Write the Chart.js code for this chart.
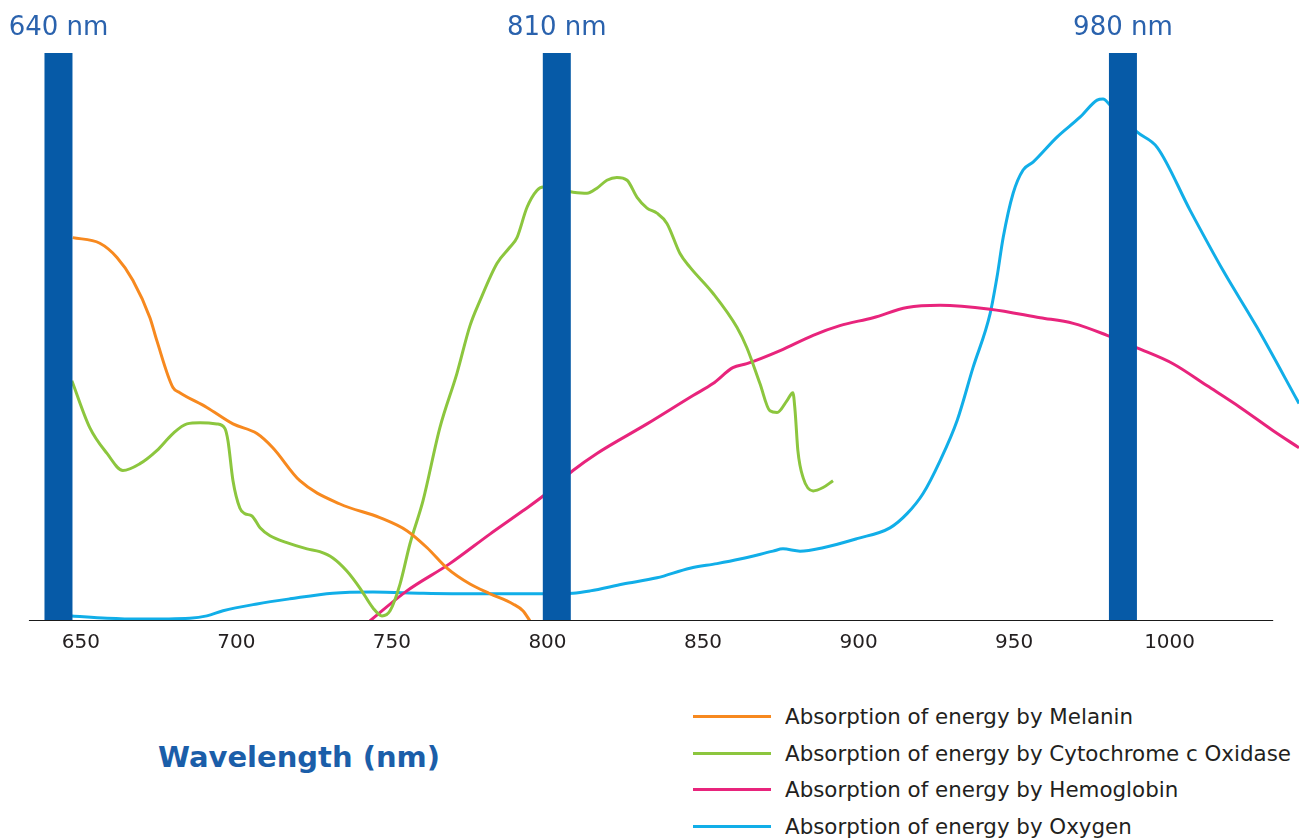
<!DOCTYPE html>
<html>
<head>
<meta charset="utf-8">
<script src="https://cdn.jsdelivr.net/npm/chart.js@4.4.1/dist/chart.umd.min.js"></script>
<style>
  html, body { margin:0; padding:0; background:#fff; width:1299px; height:838px; overflow:hidden; }
  #chart { position:absolute; left:0; top:0; }
  #title { position:absolute; left:158px; top:738px; font-family:"DejaVu Sans"; font-weight:bold; font-size:29px; color:#1b5ea9; white-space:nowrap; line-height:38px; }
  #legend { position:absolute; left:693px; top:698px; }
  .row { height:36.7px; display:flex; align-items:center; }
  .sw { width:78px; height:3px; margin-right:14px; }
  .lbl { font-family:"DejaVu Sans"; font-size:21.4px; color:#231f20; white-space:nowrap; }
</style>
</head>
<body>
<canvas id="chart" width="1299" height="665"></canvas>
<div id="title">Wavelength (nm)</div>
<div id="legend"></div>
<script>
// ---- data ----
const barPositions = [642.8, 803, 985];
const barLabels = ['640 nm', '810 nm', '980 nm'];
const tickValues = [650, 700, 750, 800, 850, 900, 950, 1000];
const axisSpan = [633.3, 1033.3];
const xRange = [624, 1041.6];

const seriesNames = [
  'Absorption of energy by Melanin',
  'Absorption of energy by Cytochrome c Oxidase',
  'Absorption of energy by Hemoglobin',
  'Absorption of energy by Oxygen'
];
const seriesColors = ['#f7891f', '#8cc63e', '#e8247c', '#11aee8'];

const melaninNm  = [647.4,656.1,661.6,666.7,672.2,674.4,679.6,681.8,690.5,698.9,706.6,711.7,720.4,733.3,746.1,754.8,761.3,767.7,775.1,781.5,788.9,792.1,794.4];
const melaninVal = [67.5,66.5,64.0,60.0,53.4,49.4,41.1,40.2,37.6,34.7,33.0,30.5,24.7,20.6,18.2,15.9,12.9,9.3,6.5,4.8,3.0,1.8,0];

const cytoNm  = [647.1,652.9,658.4,663.5,669.0,674.4,679.6,684.1,688.3,693.7,696.3,697.3,698.9,701.1,702.7,705.0,707.6,710.8,716.2,722.7,726.8,731.0,735.5,739.7,743.9,746.8,749.4,752.6,755.8,760.0,765.4,770.9,775.1,778.3,783.8,787.9,790.2,793.4,796.6,798.6,808.2,812.7,815.9,819.1,822.3,825.6,828.8,832.0,835.2,838.4,842.6,845.8,853.2,860.9,864.1,868.3,871.5,873.8,877.0,878.9,879.6,880.5,882.2,885.4,888.6,891.8];
const cytoVal = [42.3,34.0,29.5,26.5,27.7,30.0,33.0,34.7,34.9,34.7,33.9,31.7,24.7,19.9,18.9,18.5,16.4,15.0,13.8,12.7,12.2,11.1,8.8,5.8,2.3,0.9,1.8,6.5,13.6,21.2,34.0,43.6,52.0,56.4,63.0,65.8,67.5,72.8,75.8,76.4,75.5,75.3,76.2,77.6,78.1,77.6,74.6,72.7,71.8,70.0,64.7,62.3,57.7,51.7,48.1,41.8,37.0,36.7,38.8,40.2,37.0,30.0,25.2,22.9,23.5,24.7];

const hemoNm  = [742.9,754.8,768.6,781.5,792.1,798.6,808.2,815.9,832.0,846.8,853.2,859.6,864.1,874.8,885.4,894.0,904.7,915.6,926.2,942.3,958.4,969.0,979.9,989.5,1001.1,1012.1,1022.7,1033.3,1041.6];
const hemoVal = [0,5.3,10.1,15.3,19.4,22.0,26.5,29.5,34.7,39.7,41.8,44.6,45.3,47.6,50.3,52.0,53.4,55.2,55.6,54.9,53.4,52.4,50.3,48.1,45.3,41.4,37.6,33.5,30.5];

const oxyNm  = [647.1,658.4,669.0,685.0,690.5,695.7,706.6,717.2,731.0,743.9,760.0,776.0,798.6,808.2,813.7,824.3,835.2,845.8,854.5,861.9,872.5,875.7,881.2,888.6,899.5,910.1,915.6,920.7,926.2,931.7,936.8,942.3,944.5,946.5,949.7,952.9,956.1,963.8,971.2,976.7,978.6,980.9,989.5,996.0,1006.6,1017.2,1028.1,1041.6];
const oxyVal = [0.9,0.5,0.35,0.5,0.9,1.8,3.0,3.9,4.9,5.1,4.9,4.8,4.8,4.9,5.3,6.5,7.6,9.3,10.1,10.9,12.3,12.7,12.3,12.9,14.5,16.4,18.9,22.4,28.2,35.3,44.6,54.1,60.5,67.5,75.3,79.4,80.8,85.2,88.7,91.7,91.9,90.8,86.1,83.4,72.3,61.7,51.7,38.3];

// ---- build ----
const zip = (xs, ys) => xs.map((x, i) => ({x, y: ys[i]}));
const seriesData = [zip(melaninNm, melaninVal), zip(cytoNm, cytoVal), zip(hemoNm, hemoVal), zip(oxyNm, oxyVal)];

const datasets = [];
// axis line (drawn on top)
datasets.push({
  label: 'axis', data: [{x: axisSpan[0], y: 0}, {x: axisSpan[1], y: 0}],
  borderColor: '#1a1a1a', borderWidth: 2, pointRadius: 0, tension: 0
});
// wavelength bars
barPositions.forEach((p, i) => datasets.push({
  label: barLabels[i], data: [{x: p, y: 0}, {x: p, y: 100}],
  borderColor: '#065aa7', borderWidth: 28, borderCapStyle: 'butt', pointRadius: 0, tension: 0
}));
// curves
seriesData.forEach((d, i) => datasets.push({
  label: seriesNames[i], data: d, borderColor: seriesColors[i], borderWidth: 3,
  pointRadius: 0, cubicInterpolationMode: 'monotone', borderJoinStyle: 'round'
}));

const topLabels = {
  id: 'topLabels',
  afterDatasetsDraw(chart) {
    const {ctx, scales: {x}} = chart;
    ctx.save();
    ctx.font = '26px "DejaVu Sans"';
    ctx.fillStyle = '#2a62ad';
    ctx.textAlign = 'center';
    ctx.textBaseline = 'alphabetic';
    barPositions.forEach((p, i) => ctx.fillText(barLabels[i], x.getPixelForValue(p), 35));
    ctx.restore();
  }
};

new Chart(document.getElementById('chart'), {
  type: 'line',
  data: { datasets },
  plugins: [topLabels],
  options: {
    responsive: false,
    animation: false,
    layout: { padding: { top: 53, left: 0, right: 0, bottom: 0 } },
    plugins: { legend: { display: false }, tooltip: { enabled: false } },
    scales: {
      x: {
        type: 'linear', min: xRange[0], max: xRange[1],
        grid: { display: false, drawTicks: false },
        border: { display: false },
        afterBuildTicks: (s) => { s.ticks = tickValues.map(v => ({value: v})); },
        ticks: { padding: 10, color: '#231f20', font: { family: 'DejaVu Sans', size: 20 }, maxRotation: 0, autoSkip: false,
                 callback: (v) => String(v) }
      },
      y: { display: false, min: 0, max: 100 }
    }
  }
});

// legend
const leg = document.getElementById('legend');
seriesNames.forEach((n, i) => {
  const r = document.createElement('div'); r.className = 'row';
  const s = document.createElement('div'); s.className = 'sw'; s.style.background = seriesColors[i];
  const t = document.createElement('span'); t.className = 'lbl'; t.textContent = n;
  r.appendChild(s); r.appendChild(t); leg.appendChild(r);
});
</script>
</body>
</html>
